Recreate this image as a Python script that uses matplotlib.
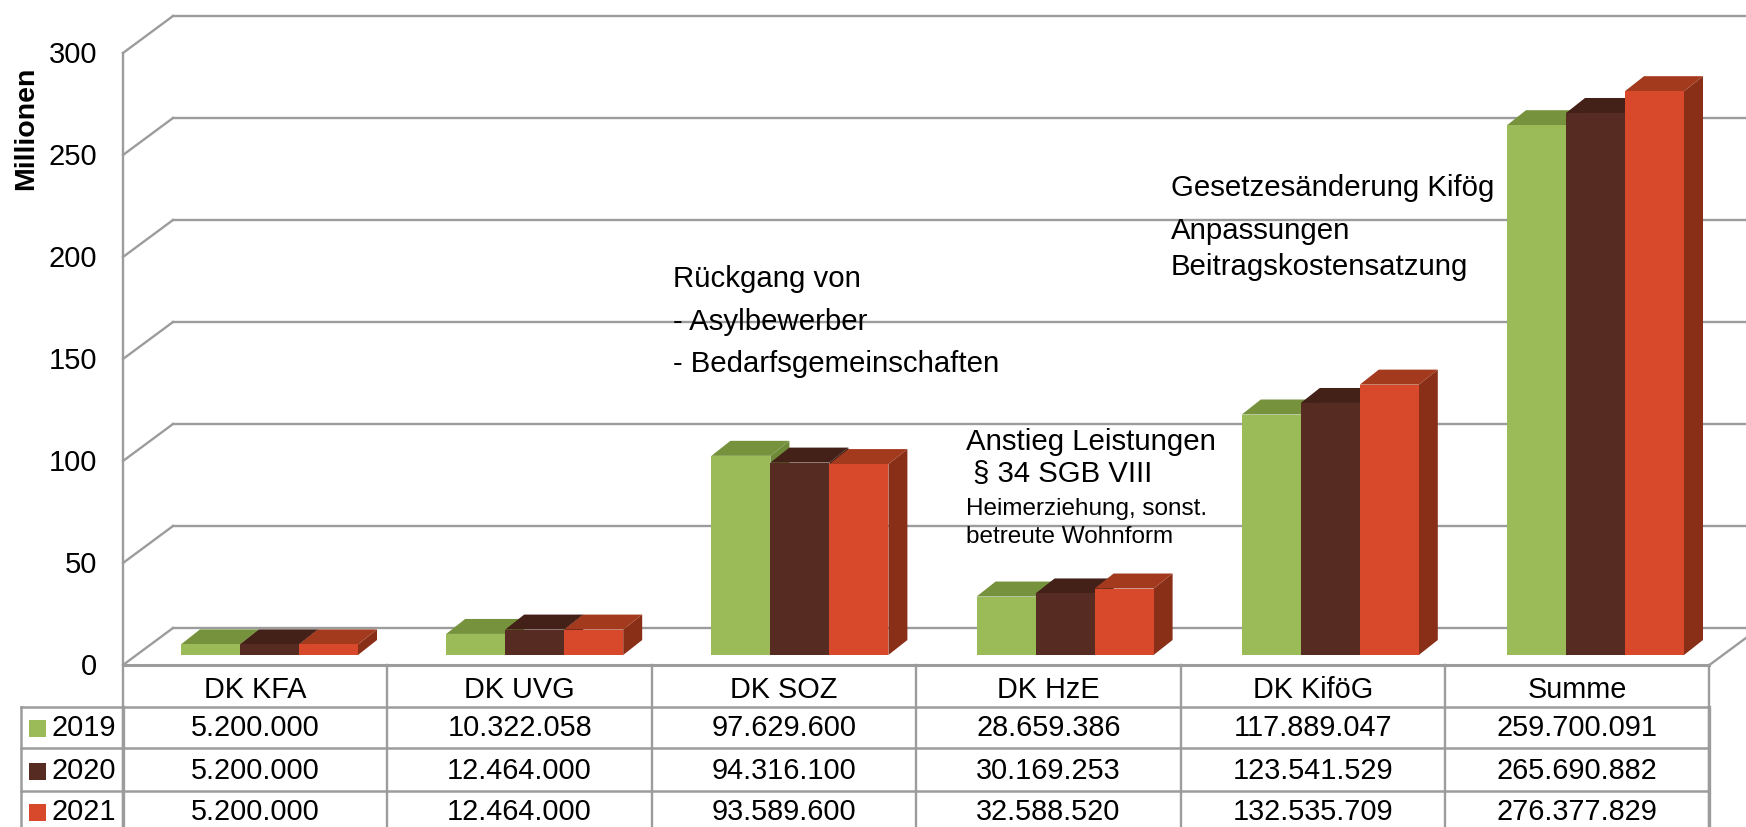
import numpy as np
import matplotlib
matplotlib.use('Agg')
import matplotlib.pyplot as plt
from matplotlib.patches import Polygon, Rectangle

plt.rcParams['font.family'] = ['Liberation Sans', 'DejaVu Sans']

categories = ['DK KFA', 'DK UVG', 'DK SOZ', 'DK HzE', 'DK KiföG', 'Summe']
years = ['2019', '2020', '2021']
values_2019 = [5200000, 10322058, 97629600, 28659386, 117889047, 259700091]
values_2020 = [5200000, 12464000, 94316100, 30169253, 123541529, 265690882]
values_2021 = [5200000, 12464000, 93589600, 32588520, 132535709, 276377829]
y_ticks = [0, 50, 100, 150, 200, 250, 300]

front_colors = ['#9BBB59', '#552B22', '#D8482A']
top_colors = ['#76923C', '#432018', '#A33A1E']
side_colors = ['#6E8A38', '#3E1D16', '#8A2F17']
line_color = '#9C9C9C'

W, H = 1746, 827
col_w = 264.4   # pixels per category
unit = 2.04     # pixels per million


def fx(px):
    return px / W


def fy(py):
    return 1 - py / H


fig = plt.figure(figsize=(W / 100, H / 100), dpi=100)
ax = fig.add_axes([0, 0, 1, 1])
ax.set_xlim(-123 / col_w, (W - 123) / col_w)
ax.set_ylim(-(H - 665) / unit, 665 / unit)
ax.axis('off')
x_right = ax.get_xlim()[1]
y_bottom = ax.get_ylim()[0]

# depth of the floor in axis units
wall_dx = 50 / col_w
wall_dy = 37 / unit
side_dx = 19 / col_w
side_dy = 15 / unit
bar_w = 59 / col_w
group_off = 58 / col_w
group_pitch = 265.2 / col_w
bar_base = 10 / unit

# back wall grid lines and the left wall diagonals
for t in y_ticks:
    ax.plot([wall_dx, x_right], [t + wall_dy, t + wall_dy], color=line_color, lw=1.7, zorder=1)
    ax.plot([0, wall_dx], [t, t + wall_dy], color=line_color, lw=1.7, zorder=1)
    ax.text(-26 / col_w, t - 1, str(t), ha='right', va='center', fontsize=21, color='black')
ax.plot([0, 0], [y_bottom, 300], color=line_color, lw=1.7, zorder=1)
ax.plot([0, 6], [0, 0], color=line_color, lw=2.2, zorder=1)
ax.plot([6, 6 + wall_dx], [0, wall_dy], color=line_color, lw=1.7, zorder=1)

# 3D bars
series = [values_2019, values_2020, values_2021]
for i in range(len(categories)):
    for j in range(3):
        v = series[j][i] / 1e6
        x0 = i * group_pitch + group_off + j * bar_w
        x1 = x0 + bar_w
        y0 = bar_base
        y1 = y0 + v
        ax.add_patch(Polygon([(x1, y0), (x1 + side_dx, y0 + side_dy), (x1 + side_dx, y1 + side_dy), (x1, y1)],
                             facecolor=side_colors[j], edgecolor='none', zorder=3))
        ax.add_patch(Polygon([(x0, y1), (x0 + side_dx, y1 + side_dy), (x1 + side_dx, y1 + side_dy), (x1, y1)],
                             facecolor=top_colors[j], edgecolor='none', zorder=3))
        ax.add_patch(Rectangle((x0, y0), bar_w, v, facecolor=front_colors[j], edgecolor='none', zorder=3))

# data table below the chart
row_lines = [707, 748, 790.5]
row_mid = [728, 771, 812]
for py in row_lines:
    ax.plot([-102 / col_w, 6], [(665 - py) / unit] * 2, color=line_color, lw=1.8, zorder=1)
ax.plot([-102 / col_w] * 2, [(665 - 707) / unit, y_bottom], color=line_color, lw=1.8)
ax.plot([0, 0], [(665 - 707) / unit, y_bottom], color=line_color, lw=2.4)
ax.plot([6, 6], [(665 - 707) / unit, y_bottom], color=line_color, lw=2.4)
for i in range(1, 7):
    ax.plot([i, i], [0, y_bottom], color=line_color, lw=1.7, zorder=1)

for i, name in enumerate(categories):
    ax.text(i + 0.5, (665 - 690) / unit, name, ha='center', va='center', fontsize=20.8)
    for j in range(3):
        label = f'{series[j][i]:,}'.replace(',', '.')
        ax.text(i + 0.5, (665 - row_mid[j]) / unit, label, ha='center', va='center', fontsize=20.8)

for j, year in enumerate(years):
    ax.add_patch(Rectangle((-94 / col_w, (665 - row_mid[j] - 8.5) / unit), 17 / col_w, 17 / unit,
                           facecolor=front_colors[j], edgecolor='none'))
    ax.text(-72 / col_w, (665 - row_mid[j]) / unit, year, ha='left', va='center', fontsize=20.8)

fig.text(fx(26), fy(128), 'Millionen', rotation=90, ha='center', va='center', fontsize=20.5, fontweight='bold')

# notes
fig.text(fx(673), fy(279), 'Rückgang von', va='center', fontsize=21.2)
fig.text(fx(673), fy(322), '- Asylbewerber', va='center', fontsize=21.2)
fig.text(fx(673), fy(364), '- Bedarfsgemeinschaften', va='center', fontsize=21.2)
fig.text(fx(966), fy(442), 'Anstieg Leistungen', va='center', fontsize=21.2)
fig.text(fx(973), fy(474), '§ 34 SGB VIII', va='center', fontsize=21.2)
fig.text(fx(966), fy(509), 'Heimerziehung, sonst.', va='center', fontsize=17.5)
fig.text(fx(966), fy(537), 'betreute Wohnform', va='center', fontsize=17.5)
fig.text(fx(1171), fy(188), 'Gesetzesänderung Kifög', va='center', fontsize=21.2)
fig.text(fx(1171), fy(231), 'Anpassungen', va='center', fontsize=21.2)
fig.text(fx(1171), fy(267), 'Beitragskostensatzung', va='center', fontsize=21.2)

fig.savefig('out.png', dpi=100, facecolor='white')
